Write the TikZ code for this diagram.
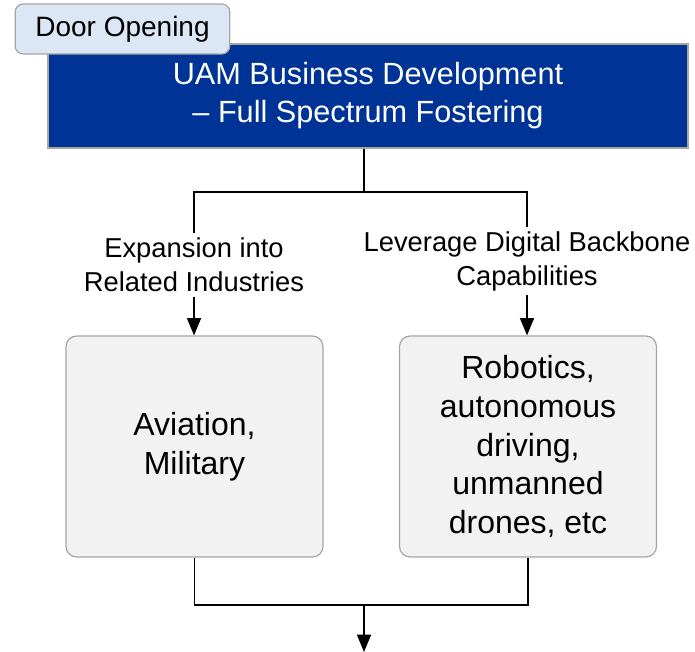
\documentclass[tikz,border=0pt]{standalone}
\usepackage{fontspec}
\setmainfont{Liberation Sans}
\usetikzlibrary{arrows.meta,positioning,calc}
\definecolor{uamblue}{RGB}{0,51,150}
\definecolor{tabblue}{RGB}{220,231,246}
\definecolor{boxgray}{RGB}{242,242,242}
\definecolor{rimgray}{RGB}{165,165,165}
\tikzset{
  tab/.style={draw=rimgray, line width=0.9pt, fill=tabblue, rounded corners=6pt,
    minimum width=161pt, minimum height=37.5pt, font=\fontsize{21}{25}\selectfont},
  head/.style={draw=rimgray, line width=0.9pt, fill=uamblue, text=white, align=center,
    minimum width=480pt, minimum height=78pt, font=\fontsize{23}{28.5}\selectfont},
  field/.style={draw=rimgray, line width=0.9pt, fill=boxgray, rounded corners=8pt, align=center,
    minimum width=192.75pt, minimum height=165.75pt, font=\fontsize{24}{29}\selectfont},
  route/.style={align=center, font=\fontsize{20.5}{25.5}\selectfont},
  link/.style={line width=1.1pt},
  feed/.style={link, -{Triangle[length=13pt,width=10.5pt]}}
}
\begin{document}
\begin{tikzpicture}[x=0.75pt,y=-0.75pt]
	\useasboundingbox (0,0) rectangle (695,652);
	\node[head] (top) at (368,96) {UAM Business Development\\– Full Spectrum Fostering};
	\node[tab] (tab) at (122.5,29) {Door Opening};
	\node[route] (why) at (194,265) {Expansion into\\Related Industries};
	\node[route] (how) at (527,261) {Leverage Digital Backbone\\Capabilities};
	\node[field] (avi) at (194.5,446.5) {Aviation,\\Military};
	\node[field] (rob) at (528,446.5) {Robotics,\\autonomous\\driving,\\unmanned\\drones, etc};
	\coordinate (split) at (364,192);
	\coordinate (merge) at (364,605);
	\coordinate (out) at (364,652);
	% branch out
	\draw[link] (split |- top.south) -- (split);
	\draw[link] (why.north) |- (split) -| (how.north);
	\draw[feed] (why.south) -- (why.south |- avi.north);
	\draw[feed] (how.south) -- (how.south |- rob.north);
	% join again
	\draw[link] (avi.south) |- (merge) -| (rob.south);
	\draw[feed] (merge) -- (out);
\end{tikzpicture}
\end{document}
